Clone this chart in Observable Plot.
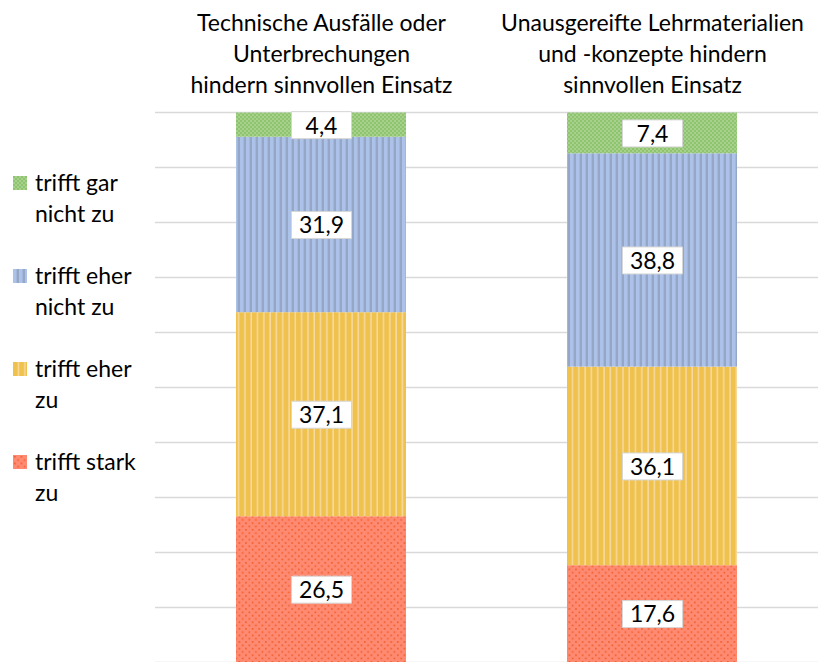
<!DOCTYPE html>
<html>
<head>
<meta charset="utf-8">
<script src="https://cdn.jsdelivr.net/npm/d3@7"></script>
<script src="https://cdn.jsdelivr.net/npm/@observablehq/plot@0.6"></script>
<style>
  html, body { margin: 0; padding: 0; background: #fff; }
  #wrap { position: relative; width: 822px; height: 662px; font-family: Lato, "Noto Sans", sans-serif; }
  #legend { position: absolute; left: 13px; top: 0; }
  .item { position: absolute; left: 0; width: 150px; font-size: 23px; line-height: 31px; color: #000; }
  .item svg { position: absolute; left: 0; top: 9px; }
  .item span { position: absolute; left: 22px; top: 0; white-space: nowrap; }
</style>
</head>
<body>
<svg width="0" height="0" style="position:absolute">
  <defs>
    <pattern id="pGreen" width="4" height="4" patternUnits="userSpaceOnUse">
      <rect width="4" height="4" fill="#a9d18e"/>
      <rect width="2" height="2" fill="#8fc46f"/>
      <rect x="2" y="2" width="2" height="2" fill="#8fc46f"/>
    </pattern>
    <pattern id="pBlue" width="6" height="6" patternUnits="userSpaceOnUse">
      <rect width="6" height="6" fill="#adc2e8"/>
      <rect x="3.6" width="2.4" height="6" fill="#95a6c7"/>
    </pattern>
    <pattern id="pYellow" width="6.3" height="6" patternUnits="userSpaceOnUse">
      <rect width="6.3" height="6" fill="#efc24e"/>
      <rect x="4.8" width="1.5" height="6" fill="#f8d9a0"/>
    </pattern>
    <pattern id="pRed" width="6.6" height="6.6" patternUnits="userSpaceOnUse">
      <rect width="6.6" height="6.6" fill="#ff8a72"/>
      <rect x="1" y="1" width="1.6" height="1.6" fill="#ef5a26"/>
      <rect x="4.3" y="4.3" width="1.6" height="1.6" fill="#ef5a26"/>
    </pattern>
  </defs>
</svg>
<div id="wrap">
  <div id="chart"></div>
  <div id="legend"></div>
</div>
<script>
// Data
const groups = [
  "Technische Ausfälle oder\nUnterbrechungen\nhindern sinnvollen Einsatz",
  "Unausgereifte Lehrmaterialien\nund -konzepte hindern\nsinnvollen Einsatz"
];
// stacking order: bottom to top
const categories = ["trifft stark zu", "trifft eher zu", "trifft eher nicht zu", "trifft gar nicht zu"];
const valuesGroup1 = [26.5, 37.1, 31.9, 4.4];
const valuesGroup2 = [17.6, 36.1, 38.8, 7.4];
const legendLabels = ["trifft gar\nnicht zu", "trifft eher\nnicht zu", "trifft eher\nzu", "trifft stark\nzu"];
const legendOrder = ["trifft gar nicht zu", "trifft eher nicht zu", "trifft eher zu", "trifft stark zu"];
const gridTicks = [0, 10, 20, 30, 40, 50, 60, 70, 80, 90, 100];

const patterns = {
  "trifft stark zu": "url(#pRed)",
  "trifft eher zu": "url(#pYellow)",
  "trifft eher nicht zu": "url(#pBlue)",
  "trifft gar nicht zu": "url(#pGreen)"
};

const data = [];
categories.forEach((c, i) => {
  data.push({group: groups[0], cat: c, value: valuesGroup1[i]});
  data.push({group: groups[1], cat: c, value: valuesGroup2[i]});
});

const fmt = v => v.toFixed(1).replace(".", ",");

const labelBox = {
  draw(context, size) {
    context.rect(-30, -13.5, 60, 27);
  }
};

const plot = Plot.plot({
  width: 822,
  height: 662,
  marginLeft: 155,
  marginRight: 4,
  marginTop: 112,
  marginBottom: 0,
  style: {fontFamily: "Lato, 'Noto Sans', sans-serif", background: "white"},
  x: {domain: groups, paddingInner: 0.487, paddingOuter: 0.2435, axis: null},
  y: {domain: [0, 100], axis: null},
  color: {domain: categories, range: categories.map(c => patterns[c])},
  marks: [
    Plot.ruleY(gridTicks, {stroke: "#d9d9d9", strokeWidth: 1.3}),
    Plot.barY(data, Plot.stackY({x: "group", y: "value", z: "cat", order: categories, fill: "cat", inset: 0})),
    Plot.dot(data, Plot.stackY({x: "group", y: "value", z: "cat", order: categories, symbol: labelBox, r: 10, fill: "white", stroke: "#d6d6d6", strokeWidth: 1})),
    Plot.text(data, Plot.stackY({x: "group", y: "value", z: "cat", order: categories, text: d => fmt(d.value), fontSize: 23, fill: "black", dy: 1})),
    Plot.text(groups, {x: d => d, text: d => d, frameAnchor: "top", lineAnchor: "top", dy: -104, fontSize: 23, lineHeight: 1.35, fill: "black"})
  ]
});
document.getElementById("chart").appendChild(plot);

// Legend
const legend = document.getElementById("legend");
const tops = [167, 260, 353, 446];
legendOrder.forEach((c, i) => {
  const div = document.createElement("div");
  div.className = "item";
  div.style.top = tops[i] + "px";
  div.innerHTML = `<svg width="14" height="14"><rect width="14" height="14" fill="${patterns[c]}"/></svg><span>${legendLabels[i].replace("\n", "<br>")}</span>`;
  legend.appendChild(div);
});
</script>
</body>
</html>
